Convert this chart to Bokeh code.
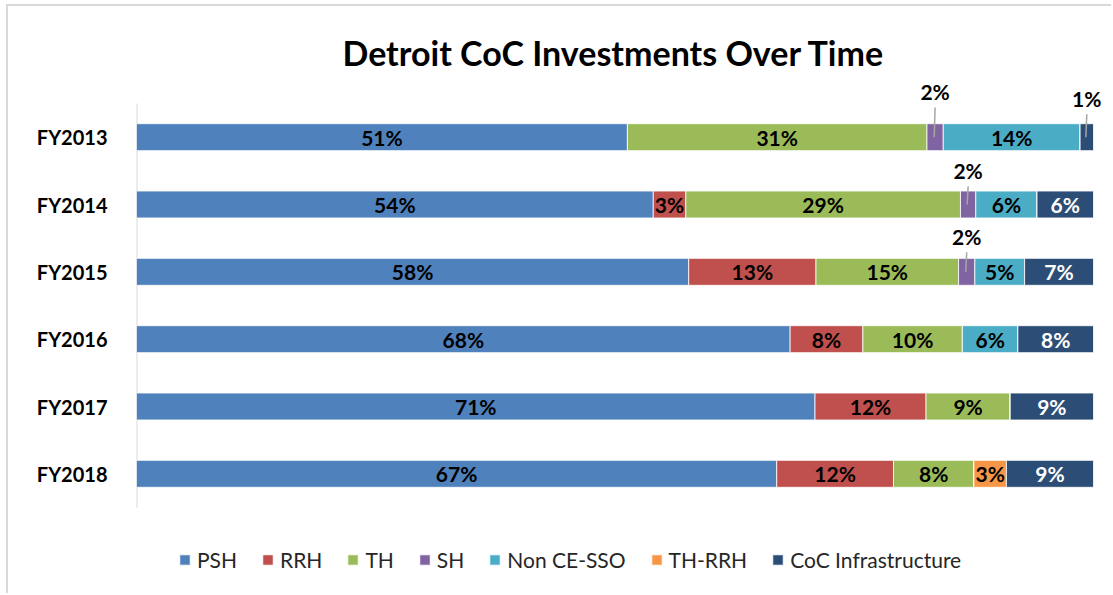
from bokeh.plotting import figure
from bokeh.models import ColumnDataSource, Legend, LegendItem, FixedTicker, Range1d, Title
from bokeh.core.properties import value
from bokeh.embed import file_html
from bokeh.resources import INLINE

# ---------------- data ----------------
years = ["FY2013", "FY2014", "FY2015", "FY2016", "FY2017", "FY2018"]
series = ["PSH", "RRH", "TH", "SH", "Non CE-SSO", "TH-RRH", "CoC Infrastructure"]
psh = [51.3, 54.0, 57.7, 68.3, 70.9, 66.9]
rrh = [0.0, 3.4, 13.3, 7.6, 11.6, 12.2]
th = [31.3, 28.7, 14.9, 10.4, 8.8, 8.4]
sh = [1.7, 1.6, 1.7, 0.0, 0.0, 0.0]
non_ce_sso = [14.3, 6.4, 5.2, 5.8, 0.0, 0.0]
th_rrh = [0.0, 0.0, 0.0, 0.0, 0.0, 3.4]
coc_infra = [1.4, 5.9, 7.2, 7.9, 8.7, 9.1]

# ---------------- style ----------------
colors = ["#4f81bd", "#c0504d", "#9bbb59", "#8064a2", "#4bacc6", "#f79646", "#2c4d75"]
label_colors = ["black", "black", "black", "black", "black", "black", "white"]
FONT = "Lato"
# label lift (data units above bar centre) for small segments labelled outside
outside = {("FY2013", "SH"): 0.68, ("FY2013", "CoC Infrastructure"): 0.58,
           ("FY2014", "SH"): 0.51, ("FY2015", "SH"): 0.53}

W, H = 1105, 589
n = len(years)
# frame spans from above the top outside labels down past the legend
y_lo = -0.5 - 79 / 67.34
y_hi = n - 0.5 + 25 / 67.34
x_hi = 100 * (W - 128) / 957.0
p = figure(width=W, height=H, output_backend="svg", toolbar_location=None,
           x_range=Range1d(0, x_hi), y_range=Range1d(y_lo, y_hi),
           min_border_left=128, min_border_right=0, min_border_top=72,
           min_border_bottom=9, title=None,
           styles={"border-left": "2px solid #d9d9d9", "border-top": "2px solid #d9d9d9"},
           margin=(4, 0, 0, 6))
p.outline_line_color = None
p.xgrid.visible = False
p.ygrid.visible = False
p.xaxis.visible = False

ypos = [n - 1 - i for i in range(n)]
data = {"y": ypos}
cols = [psh, rrh, th, sh, non_ce_sso, th_rrh, coc_infra]
keys = ["s%d" % i for i in range(len(series))]
for k, c in zip(keys, cols):
    data[k] = c
src = ColumnDataSource(data)

# category axis line (only over the bar area)
p.segment(x0=[0], y0=[-0.5], x1=[0], y1=[n - 0.5], line_color="#d9d9d9", line_width=2)

rends = p.hbar_stack(keys, y="y", height=0.4, color=colors, source=src,
                     line_color="white", line_width=0.8)

# data labels
lx, ly, lt, lc = [], [], [], []
ox, oy, ot = [], [], []
sx0, sy0, sx1, sy1 = [], [], [], []
for i, yr in enumerate(years):
    cum = 0.0
    for j, s in enumerate(series):
        v = cols[j][i]
        mid = cum + v / 2
        cum += v
        if v <= 0:
            continue
        txt = "%d%%" % int(round(v))
        if (yr, s) in outside:
            lift = outside[(yr, s)]
            ox.append(mid); oy.append(ypos[i] + lift); ot.append(txt)
            sx0.append(mid); sy0.append(ypos[i] + lift - 0.24)
            sx1.append(mid - 0.1); sy1.append(ypos[i])
        else:
            lx.append(mid); ly.append(ypos[i]); lt.append(txt); lc.append(label_colors[j])

p.segment(x0=sx0, y0=sy0, x1=sx1, y1=sy1, line_color="#a6a6a6", line_width=1.5)
p.text(x=lx, y=ly, text=lt, text_color=lc, text_align="center", text_baseline="middle",
       text_font=value(FONT), text_font_style="bold", text_font_size="21px")
p.text(x=ox, y=oy, text=ot, text_color="black", text_align="center", text_baseline="middle",
       text_font=value(FONT), text_font_style="bold", text_font_size="21px")

# y axis
p.yaxis.ticker = FixedTicker(ticks=ypos)
p.yaxis.major_label_overrides = {y: yr for y, yr in zip(ypos, years)}
p.yaxis.major_tick_line_color = None
p.yaxis.minor_tick_line_color = None
p.yaxis.axis_line_color = None
p.yaxis.major_label_text_font = FONT
p.yaxis.major_label_text_font_style = "bold"
p.yaxis.major_label_text_font_size = "20px"
p.yaxis.major_label_text_color = "black"
p.yaxis.major_label_standoff = 23

# title
t = Title(text="Detroit CoC Investments Over Time", align="left", offset=206,
          text_font=FONT, text_font_style="bold", text_font_size="34px",
          text_color="black", standoff=11)
p.add_layout(t, "above")

# legend
items = [LegendItem(label=s, renderers=[r]) for s, r in zip(series, rends)]
leg = Legend(items=items, orientation="horizontal", location=(42, 14),
             glyph_width=13, glyph_height=13, label_text_font=FONT,
             label_text_font_size="21px", label_text_color="#262626",
             spacing=24, label_standoff=6, padding=0, margin=0,
             border_line_color=None, background_fill_alpha=0)
p.add_layout(leg, "center")

open("out.html", "w").write(file_html(p, INLINE))
